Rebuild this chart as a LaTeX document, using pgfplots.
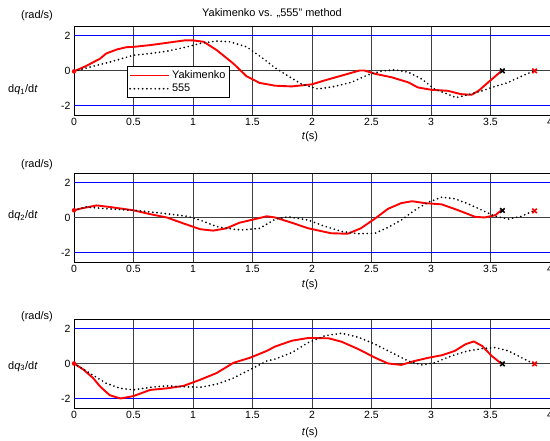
\documentclass[border=0pt]{standalone}
\usepackage{fontspec}
\setmainfont{Liberation Sans}
\usepackage{pgfplots}
\pgfplotsset{compat=1.18}

\pgfplotsset{
  myax/.style={
    anchor=south west, scale only axis, width=476bp, height=89bp,
    xmin=0, xmax=4, xtick={0,0.5,...,4}, ytick={-2,0,2},
    ymin=-2.542857, ymax=2.542857,
    axis line style={black, line width=0.7pt},
    major tick length=0pt,
    xmajorgrids,
    grid style={black!75, line width=0.6pt},
    /pgf/number format/assume math mode=true,
    ticklabel style={font=\fontsize{10.5}{12}\selectfont},
    clip=true,
  },
  yak/.style={red, line width=1.9pt, line join=round},
  fff/.style={black, line width=1.9pt, line cap=round, dash pattern=on 0pt off 4.2pt},
  bl/.style={draw=blue, line width=1bp, forget plot, mark=none},
  zl/.style={draw=black!75, line width=0.8bp, forget plot, mark=none},
  xm/.style={only marks, mark=x, mark size=3.2pt, mark options={line width=1.6pt}, forget plot},
}

\begin{document}
\begin{tikzpicture}[x=1bp,y=1bp]
\path[use as bounding box] (0,0) rectangle (550,441);

% ---------- plot 1 ----------
\begin{axis}[myax, at={(74bp,326bp)},
  legend style={at={(0.111,0.545)}, anchor=north west, draw=black, line width=0.7pt,
    font=\fontsize{11}{12}\selectfont, inner sep=2pt, row sep=0pt},
  legend cell align=left,
  legend image code/.code={\draw[#1] (0bp,0bp) -- (39bp,0bp);}]
\addplot[zl] coordinates {(0,0)(4,0)};
\addplot[bl] coordinates {(0,2)(4,2)};
\addplot[bl] coordinates {(0,-2)(4,-2)};
\addplot[yak] coordinates {
(0,-0.05)(0.1,0.25)(0.22,0.68)(0.27,0.97)(0.36,1.2)(0.44,1.33)(0.5,1.35)(0.64,1.45)(0.78,1.58)(0.93,1.72)(1.0,1.72)(1.09,1.64)(1.2,1.16)(1.34,0.39)(1.45,-0.33)(1.56,-0.71)(1.69,-0.87)(1.83,-0.91)(2.0,-0.79)(2.1,-0.58)(2.25,-0.29)(2.40,0.0)(2.44,0.0)(2.53,-0.19)(2.67,-0.39)(2.81,-0.68)(2.89,-0.97)(3.0,-1.1)(3.14,-1.16)(3.25,-1.35)(3.34,-1.39)(3.4,-1.16)(3.48,-0.68)(3.59,-0.04)};
\addlegendentry{Yakimenko}
\addplot[fff] coordinates {
(0,-0.05)(0.13,0.19)(0.3,0.48)(0.5,0.87)(0.64,0.97)(0.78,1.1)(0.95,1.35)(1.06,1.55)(1.2,1.68)(1.31,1.64)(1.45,1.35)(1.59,0.68)(1.69,0.15)(1.77,-0.19)(1.91,-0.77)(2.05,-1.06)(2.19,-0.91)(2.33,-0.68)(2.47,-0.25)(2.58,-0.04)(2.7,0.04)(2.81,-0.1)(2.92,-0.48)(3.03,-1.06)(3.14,-1.35)(3.21,-1.55)(3.31,-1.39)(3.43,-1.16)(3.54,-0.91)(3.65,-0.68)(3.76,-0.33)(3.86,-0.04)};
\addlegendentry{555}
\addplot[xm, black] coordinates {(3.6,-0.02)};
\addplot[xm, red] coordinates {(3.87,-0.02)};
\addplot[only marks, mark=*, red, mark size=2pt, forget plot] coordinates {(0,-0.05)};
\end{axis}

% ---------- plot 2 ----------
\begin{axis}[myax, at={(74bp,179bp)}]
\addplot[zl] coordinates {(0,0)(4,0)};
\addplot[bl] coordinates {(0,2)(4,2)};
\addplot[bl] coordinates {(0,-2)(4,-2)};
\addplot[yak] coordinates {
(0,0.41)(0.05,0.5)(0.19,0.69)(0.3,0.6)(0.5,0.41)(0.64,0.19)(0.78,0.0)(0.92,-0.34)(1.06,-0.67)(1.17,-0.75)(1.28,-0.62)(1.39,-0.3)(1.51,-0.11)(1.62,0.07)(1.69,0.0)(1.83,-0.3)(1.97,-0.62)(2.16,-0.9)(2.3,-0.93)(2.41,-0.62)(2.53,-0.06)(2.64,0.5)(2.75,0.82)(2.84,0.93)(2.95,0.82)(3.09,0.75)(3.23,0.41)(3.37,0.04)(3.45,0.0)(3.54,0.13)(3.59,0.41)};
\addplot[fff] coordinates {
(0,0.41)(0.1,0.6)(0.27,0.5)(0.5,0.41)(0.72,0.26)(0.95,0.07)(1.06,-0.15)(1.2,-0.52)(1.34,-0.67)(1.42,-0.71)(1.56,-0.62)(1.69,-0.1)(1.8,0.04)(1.97,-0.15)(2.1,-0.49)(2.25,-0.8)(2.39,-0.93)(2.53,-0.9)(2.64,-0.56)(2.75,-0.15)(2.87,0.45)(2.98,0.88)(3.09,1.16)(3.2,1.07)(3.31,0.79)(3.43,0.41)(3.54,0.07)(3.65,-0.09)(3.76,0.07)(3.86,0.37)};
\addplot[xm, black] coordinates {(3.6,0.4)};
\addplot[xm, red] coordinates {(3.87,0.38)};
\addplot[only marks, mark=*, red, mark size=2pt, forget plot] coordinates {(0,0.41)};
\end{axis}

% ---------- plot 3 ----------
\begin{axis}[myax, at={(74bp,33bp)}]
\addplot[zl] coordinates {(0,0)(4,0)};
\addplot[bl] coordinates {(0,2)(4,2)};
\addplot[bl] coordinates {(0,-2)(4,-2)};
\addplot[yak] coordinates {
(0,0.0)(0.08,-0.35)(0.16,-0.83)(0.22,-1.32)(0.3,-1.81)(0.39,-2.0)(0.5,-1.86)(0.64,-1.51)(0.78,-1.42)(0.92,-1.28)(1.06,-0.93)(1.2,-0.54)(1.34,0.04)(1.48,0.33)(1.62,0.72)(1.69,0.97)(1.83,1.3)(1.97,1.46)(2.14,1.44)(2.25,1.24)(2.39,0.82)(2.53,0.33)(2.64,0.0)(2.75,-0.08)(2.86,0.14)(2.98,0.33)(3.09,0.47)(3.2,0.72)(3.29,1.1)(3.36,1.26)(3.43,1.0)(3.51,0.43)(3.59,0.0)};
\addplot[fff] coordinates {
(0,0.0)(0.13,-0.54)(0.27,-1.13)(0.39,-1.42)(0.5,-1.51)(0.64,-1.36)(0.78,-1.28)(0.92,-1.32)(1.06,-1.36)(1.2,-1.18)(1.34,-0.83)(1.48,-0.35)(1.62,0.14)(1.69,0.25)(1.83,0.62)(1.97,1.2)(2.11,1.59)(2.25,1.73)(2.39,1.5)(2.53,1.1)(2.67,0.62)(2.81,0.14)(2.92,-0.08)(3.03,0.04)(3.17,0.43)(3.31,0.72)(3.43,0.85)(3.54,0.91)(3.65,0.72)(3.79,0.23)(3.86,0.0)};
\addplot[xm, black] coordinates {(3.6,-0.02)};
\addplot[xm, red] coordinates {(3.87,-0.02)};
\addplot[only marks, mark=*, red, mark size=2pt, forget plot] coordinates {(0,0.0)};
\end{axis}

% ---------- texts ----------
\begin{scope}[every node/.style={font=\fontsize{11}{12}\selectfont, inner sep=0pt}]
\node at (272,428) {Yakimenko vs. „555” method};
\node at (37,425.5) {(rad/s)};
\node at (37,276) {(rad/s)};
\node at (37,124) {(rad/s)};
\node at (23,351) {d\textit{q}\textsubscript{1}/d\textit{t}};
\node at (23,225) {d\textit{q}\textsubscript{2}/d\textit{t}};
\node at (23,74.5) {d\textit{q}\textsubscript{3}/d\textit{t}};
\node at (310,304) {\textit{t}(s)};
\node at (310,156) {\textit{t}(s)};
\node at (310,8) {\textit{t}(s)};
\end{scope}
\end{tikzpicture}
\end{document}
